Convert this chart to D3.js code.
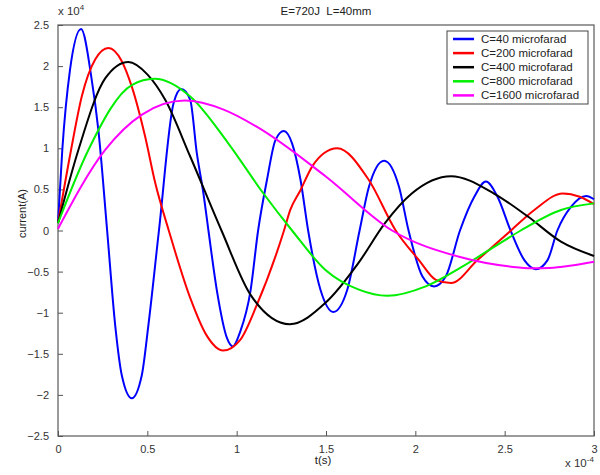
<!DOCTYPE html>
<head>
<meta charset="utf-8">
<style>
  body { margin: 0; background: #fff; font: 11px Arial, "Liberation Sans", sans-serif; }
  .line { fill: none; stroke-width: 2px; stroke-linejoin: round; }
  .tick text { fill: #333; font-size: 11px; }
  .tick line { stroke: #555; }
  .legend { font-size: 11.5px; fill: #222; }
</style>
</head>
<body>
<script src="https://d3js.org/d3.v7.min.js"></script>
<script>
// t in units of 1e-4 s, current in units of 1e4 A (as on the axes)
var xTicks = [0, 0.5, 1, 1.5, 2, 2.5, 3];
var yTicks = [-2.5, -2, -1.5, -1, -0.5, 0, 0.5, 1, 1.5, 2, 2.5];
var seriesNames = ["C=40 microfarad", "C=200 microfarad", "C=400 microfarad", "C=800 microfarad", "C=1600 microfarad"];
var seriesColors = ["#0000ff", "#ff0000", "#000000", "#00ee00", "#ff00ff"];

var c40 = [[0,0.09],[0.024,0.98],[0.067,1.95],[0.129,2.45],[0.189,1.83],[0.226,1.22],[0.275,0],
  [0.32,-1.15],[0.357,-1.76],[0.413,-2.04],[0.469,-1.76],[0.506,-1.15],[0.565,0],
  [0.647,1.55],[0.69,1.72],[0.74,1.59],[0.777,0.94],[0.814,0.45],[0.842,0],
  [0.89,-0.74],[0.946,-1.31],[0.978,-1.41],[1.02,-1.23],[1.077,-0.74],[1.12,0],
  [1.17,0.62],[1.217,1.1],[1.264,1.21],[1.31,1.06],[1.357,0.62],[1.40,0],
  [1.469,-0.72],[1.541,-0.99],[1.619,-0.72],[1.688,0],
  [1.74,0.53],[1.825,0.85],[1.909,0.53],[1.962,0],
  [2.04,-0.56],[2.105,-0.68],[2.17,-0.56],[2.25,0],
  [2.33,0.41],[2.395,0.595],[2.46,0.41],[2.533,0],
  [2.61,-0.36],[2.675,-0.47],[2.74,-0.36],[2.795,0],
  [2.872,0.29],[2.956,0.42],[3.0,0.38]];

var c200 = [[0,0.09],[0.073,0.98],[0.133,1.63],[0.208,2.08],[0.282,2.22],[0.357,2.06],[0.413,1.75],
  [0.488,1.14],[0.544,0.58],[0.62,0],[0.74,-0.82],[0.83,-1.27],[0.924,-1.46],[1.02,-1.33],
  [1.114,-0.9],[1.265,0],[1.30,0.25],[1.357,0.49],[1.423,0.78],[1.488,0.94],[1.563,1.0],
  [1.738,0.62],[1.89,0],[2.02,-0.36],[2.115,-0.6],[2.2,-0.64],[2.348,-0.36],[2.535,0],
  [2.666,0.25],[2.825,0.45],[2.92,0.41],[3.0,0.32]];

var c400 = [[0,0.09],[0.114,0.98],[0.264,1.85],[0.394,2.05],[0.5,1.9],[0.6,1.59],
  [0.74,0.9],[0.915,0],[1.077,-0.78],[1.297,-1.14],[1.497,-0.88],[1.68,-0.4],[1.83,0.09],
  [1.98,0.45],[2.2,0.66],[2.44,0.45],[2.63,0.17],[2.815,-0.135],[3.0,-0.31]];

var c800 = [[0,0.09],[0.17,0.98],[0.413,1.77],[0.54,1.845],[0.74,1.63],[0.95,1.07],
  [1.15,0.45],[1.31,0],[1.497,-0.48],[1.684,-0.72],[1.843,-0.795],[2.058,-0.68],[2.255,-0.45],
  [2.441,-0.2],[2.59,0],[2.815,0.25],[3.0,0.33]];

var c1600 = [[0,0.02],[0.264,0.98],[0.47,1.41],[0.71,1.58],[0.927,1.47],[1.114,1.26],
  [1.497,0.66],[1.87,0],[2.245,-0.32],[2.535,-0.44],[2.65,-0.46],[2.75,-0.455],[3.0,-0.38]];

var allSeries = [c40, c200, c400, c800, c1600];

var margin = {top: 25, right: 6, bottom: 39, left: 58},
    width = 600 - margin.left - margin.right,
    height = 475 - margin.top - margin.bottom;

var x = d3.scaleLinear().domain([0, 3]).range([0, width]);
var y = d3.scaleLinear().domain([-2.5, 2.5]).range([height, 0]);

var svg = d3.select("body").append("svg")
    .attr("width", 600)
    .attr("height", 475)
  .append("g")
    .attr("transform", "translate(" + margin.left + "," + margin.top + ")");

// axes box
svg.append("rect")
    .attr("width", width).attr("height", height)
    .attr("fill", "none").attr("stroke", "#666").attr("stroke-width", 1.3);

var fmt = function(d) { return d3.format("")(d); };

svg.append("g")
    .attr("transform", "translate(0," + height + ")")
    .call(d3.axisBottom(x).tickValues(xTicks).tickFormat(fmt).tickSizeInner(-5).tickSizeOuter(0).tickPadding(9))
    .call(function(g) { g.select(".domain").remove(); });

svg.append("g")
    .call(d3.axisLeft(y).tickValues(yTicks).tickFormat(fmt).tickSizeInner(-5).tickSizeOuter(0).tickPadding(9))
    .call(function(g) { g.select(".domain").remove(); });

var line = d3.line()
    .curve(d3.curveMonotoneX)
    .x(function(d) { return x(d[0]); })
    .y(function(d) { return y(d[1]); });

allSeries.forEach(function(s, i) {
  svg.append("path")
      .datum(s)
      .attr("class", "line")
      .style("stroke", seriesColors[i])
      .attr("d", line);
});

// exponent labels
var ex = svg.append("text").attr("x", 0).attr("y", -10).attr("fill", "#333").attr("font-size", 11.5);
ex.append("tspan").text("x 10");
ex.append("tspan").attr("dy", -5).attr("font-size", 8).text("4");

var ex2 = svg.append("text").attr("x", width - 29).attr("y", height + 31).attr("fill", "#333").attr("font-size", 11.5);
ex2.append("tspan").text("x 10");
ex2.append("tspan").attr("dy", -5).attr("font-size", 8).text("-4");

// title and axis labels
svg.append("text")
    .attr("x", width / 2).attr("y", -10)
    .attr("text-anchor", "middle").attr("fill", "#222").attr("font-size", 11.5)
    .text("E=720J  L=40mm").style("white-space", "pre");

svg.append("text")
    .attr("x", width / 2 - 3).attr("y", height + 28)
    .attr("text-anchor", "middle").attr("fill", "#222").attr("font-size", 11.5)
    .text("t(s)");

svg.append("text")
    .attr("transform", "translate(-32," + (height / 2 - 17) + ") rotate(-90)")
    .attr("text-anchor", "middle").attr("fill", "#222").attr("font-size", 11)
    .text("current(A)");

// legend
var lg = svg.append("g").attr("transform", "translate(" + (width - 147) + ",6)");
lg.append("rect")
    .attr("width", 141).attr("height", 73)
    .attr("fill", "#fff").attr("stroke", "#444").attr("stroke-width", 1);
seriesNames.forEach(function(n, i) {
  var yy = 8 + i * 14.1;
  lg.append("line")
      .attr("x1", 6).attr("x2", 27).attr("y1", yy).attr("y2", yy)
      .attr("stroke", seriesColors[i]).attr("stroke-width", 2.5);
  lg.append("text")
      .attr("class", "legend")
      .attr("x", 34).attr("y", yy + 4)
      .text(n);
});
</script>
</body>
